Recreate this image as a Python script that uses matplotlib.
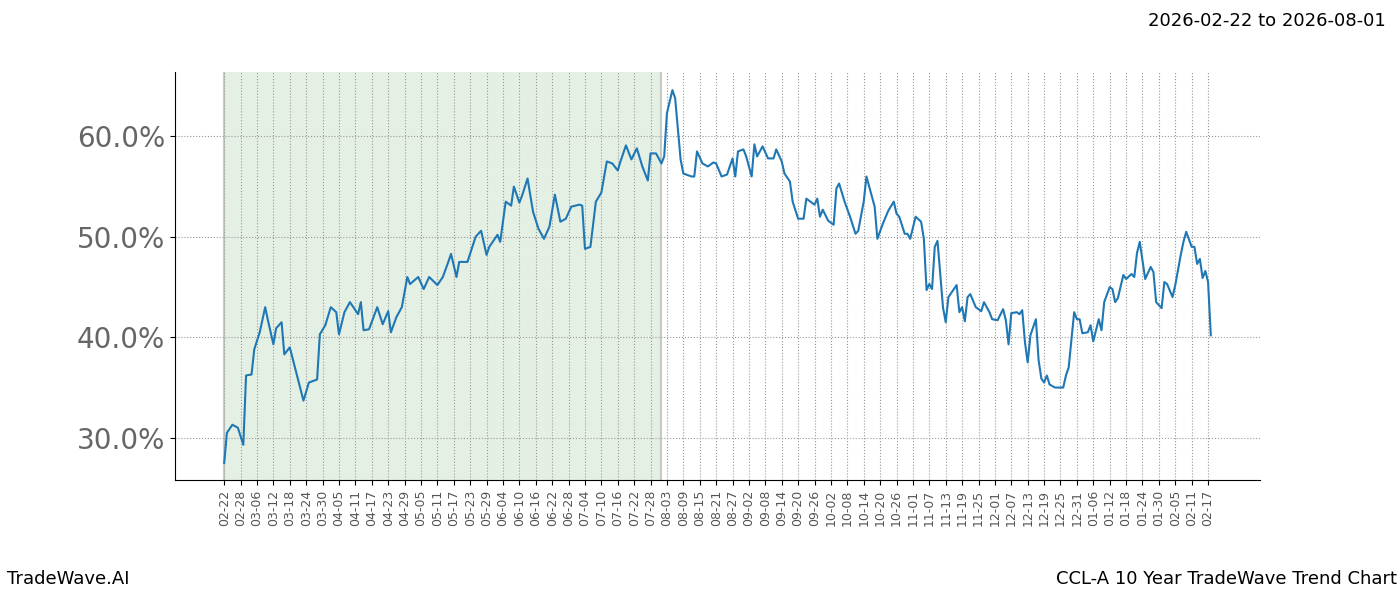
import datetime as dt
import matplotlib
matplotlib.use("Agg")
import matplotlib.pyplot as plt
import matplotlib.dates as mdates
from matplotlib.ticker import FuncFormatter

start = dt.date(2026, 2, 22)
shade_end_day = 160

day_offsets = [
    0, 1, 3, 5, 7, 8, 10, 11, 13, 15, 16, 18, 19, 21, 22, 24, 29, 31, 34, 35,
    37, 39, 41, 42, 44, 46, 49, 50, 51, 53, 56, 58, 60, 61, 63, 65, 67, 68, 71, 73,
    75, 78, 80, 82, 83, 85, 86, 89, 92, 94, 96, 97, 100, 101, 103, 105, 106, 108, 109, 111,
    113, 115, 117, 119, 121, 123, 125, 127, 130, 131, 132, 134, 136, 138, 140, 142, 144, 145, 147, 149,
    151, 153, 155, 156, 158, 160, 161, 162, 164, 165, 167, 168, 171, 172, 173, 175, 177, 179, 180, 182,
    184, 186, 187, 188, 190, 191, 193, 194, 195, 197, 199, 201, 202, 204, 205, 207, 208, 210, 212, 213,
    216, 217, 218, 219, 221, 223, 224, 225, 227, 229, 231, 232, 234, 235, 237, 238, 239, 241, 243, 245,
    246, 247, 249, 250, 251, 253, 255, 256, 257, 258, 259, 260, 261, 263, 264, 265, 268, 269, 270, 271,
    272, 273, 275, 277, 278, 280, 281, 283, 285, 286, 287, 288, 290, 291, 292, 293, 294, 295, 297, 298,
    299, 300, 301, 302, 304, 307, 308, 309, 311, 312, 313, 314, 316, 317, 318, 320, 321, 322, 324, 325,
    326, 327, 329, 330, 332, 333, 334, 335, 337, 339, 340, 341, 343, 344, 345, 347, 348, 350, 351, 352,
    354, 355, 356, 357, 358, 359, 360, 361,
]
values = [
    27.5, 30.5, 31.3, 31.0, 29.3, 36.2, 36.3, 38.8, 40.5, 43.0, 41.7, 39.3, 40.9, 41.5, 38.3, 39.0, 33.7, 35.5, 35.8, 40.3,
    41.2, 43.0, 42.5, 40.3, 42.5, 43.5, 42.3, 43.5, 40.7, 40.8, 43.0, 41.3, 42.6, 40.5, 42.0, 43.0, 46.0, 45.3, 46.0, 44.8,
    46.0, 45.2, 46.0, 47.5, 48.3, 46.0, 47.5, 47.5, 50.0, 50.6, 48.2, 49.0, 50.2, 49.5, 53.5, 53.1, 55.0, 53.4, 54.1, 55.8,
    52.5, 50.8, 49.8, 51.0, 54.2, 51.5, 51.8, 53.0, 53.2, 53.1, 48.8, 49.0, 53.5, 54.4, 57.5, 57.3, 56.6, 57.5, 59.1, 57.7,
    58.8, 57.0, 55.6, 58.3, 58.3, 57.3, 58.0, 62.3, 64.6, 63.8, 57.7, 56.3, 56.0, 56.0, 58.5, 57.3, 57.0, 57.4, 57.3, 56.0,
    56.2, 57.8, 56.0, 58.5, 58.7, 58.0, 56.0, 59.2, 58.0, 59.0, 57.8, 57.8, 58.7, 57.5, 56.3, 55.5, 53.5, 51.8, 51.8, 53.8,
    53.2, 53.8, 52.0, 52.7, 51.6, 51.2, 54.8, 55.3, 53.5, 52.0, 50.3, 50.6, 53.5, 56.0, 54.0, 53.0, 49.8, 51.3, 52.6, 53.5,
    52.3, 52.0, 50.3, 50.3, 49.8, 52.0, 51.5, 49.8, 44.7, 45.3, 44.8, 49.0, 49.6, 43.0, 41.5, 44.0, 45.2, 42.5, 43.0, 41.6,
    44.0, 44.3, 43.0, 42.6, 43.5, 42.5, 41.8, 41.7, 42.8, 41.7, 39.3, 42.4, 42.5, 42.3, 42.7, 39.5, 37.5, 40.2, 41.8, 37.7,
    35.9, 35.5, 36.2, 35.3, 35.0, 35.0, 36.2, 37.0, 42.5, 41.8, 41.8, 40.4, 40.5, 41.2, 39.6, 41.8, 40.7, 43.5, 45.0, 44.8,
    43.5, 43.9, 46.2, 45.8, 46.3, 46.0, 48.4, 49.5, 45.8, 47.0, 46.5, 43.5, 42.9, 45.5, 45.3, 44.0, 45.2, 48.2, 49.5, 50.5,
    49.0, 49.0, 47.3, 47.8, 45.9, 46.6, 45.5, 40.2,
]

dates = [start + dt.timedelta(days=d) for d in day_offsets]
tick_dates = [start + dt.timedelta(days=d) for d in range(0, 361, 6)]

fig = plt.figure(figsize=(14, 6), dpi=100)
ax = fig.add_axes([0.125, 0.2, 0.775, 0.68])
ax.axvspan(start, start + dt.timedelta(days=shade_end_day), color="#2e8b2e", alpha=0.12, lw=0)
ax.axvline(start, color="#aaaaaa", lw=1.5, alpha=0.6)
ax.axvline(start + dt.timedelta(days=shade_end_day), color="#aaaaaa", lw=1.5, alpha=0.6)
ax.plot(dates, values, color="#1f77b4", lw=1.5)

ax.set_xlim(start - dt.timedelta(days=18), start + dt.timedelta(days=379))
ax.set_ylim(25.8, 66.4)
ax.set_xticks(tick_dates)
ax.xaxis.set_major_formatter(mdates.DateFormatter("%m-%d"))
ax.set_yticks([30, 40, 50, 60])
ax.yaxis.set_major_formatter(FuncFormatter(lambda v, _: f"{v:.1f}%"))
plt.setp(ax.get_xticklabels(), rotation=90, fontsize=9, color="#555555")
plt.setp(ax.get_yticklabels(), fontsize=20, color="#666666")
ax.grid(True, color="#999999", linestyle=":", linewidth=0.8)
ax.spines["top"].set_visible(False)
ax.spines["right"].set_visible(False)

fig.text(0.99, 0.965, "2026-02-22 to 2026-08-01", ha="right", va="center", fontsize=13)
fig.text(0.005, 0.02, "TradeWave.AI", ha="left", va="bottom", fontsize=13)
fig.text(0.998, 0.02, "CCL-A 10 Year TradeWave Trend Chart", ha="right", va="bottom", fontsize=13)

fig.savefig("out.png", dpi=100)
